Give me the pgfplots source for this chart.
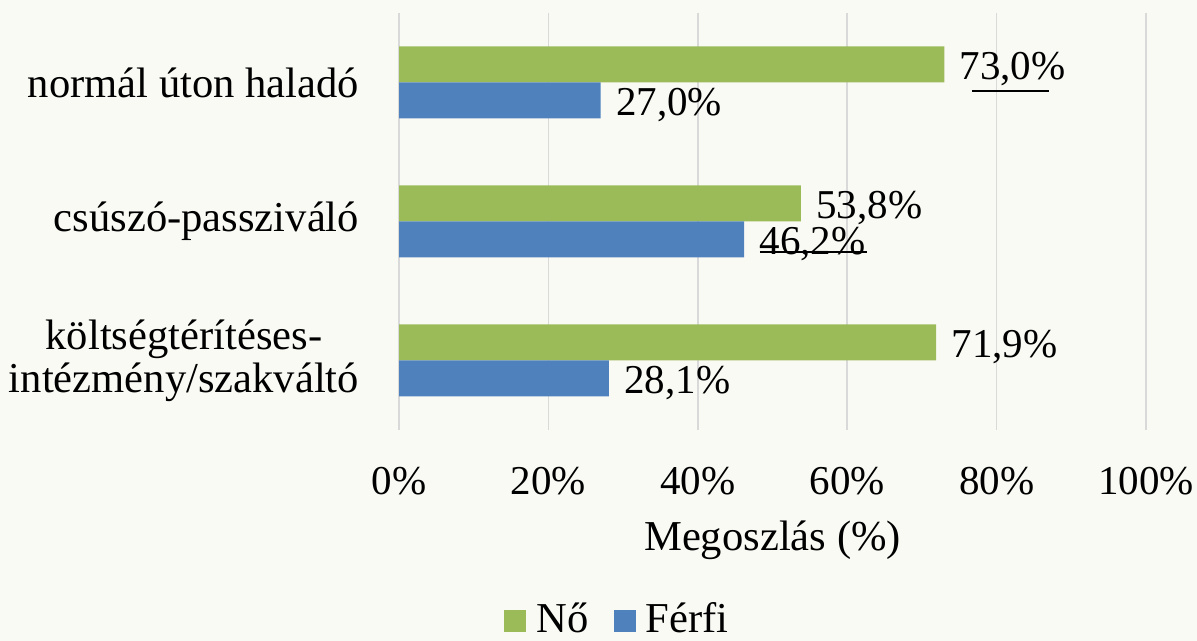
\documentclass[border=0pt]{standalone}
\usepackage{pgfplots}
\pgfplotsset{compat=1.18}
\usepackage{fontspec}
\setmainfont{Liberation Serif}
\definecolor{gr}{HTML}{9BBB59}
\definecolor{bl}{HTML}{4F81BD}
\definecolor{bg}{HTML}{FAFAF5}
\definecolor{gridc}{HTML}{D9D9D9}
\begin{document}
\begin{tikzpicture}[font=\fontsize{20.5}{22}\selectfont]
\useasboundingbox[fill=bg] (0,0) rectangle (598.5pt,320.5pt);
\begin{axis}[
 at={(199.5pt,105.5pt)}, anchor=south west,
 scale only axis, width=373.5pt, height=208.5pt,
 xmin=0, xmax=100, ymin=-0.5, ymax=2.5,
 xbar, bar width=18pt,
 axis line style={draw=none}, tick style={draw=none},
 xmajorgrids, grid style={gridc, line width=0.75pt},
 xtick={0,20,...,100},
 xticklabel={\pgfmathprintnumber{\tick}\%},
 /pgf/number format/assume math mode=true,
 xticklabel style={anchor=center, inner sep=0pt, yshift=-25.75pt},
 ytick={0,1,2},
 yticklabels={{költségtérítéses-\\intézmény/szakváltó}, csúszó-passziváló, normál úton haladó},
 yticklabel style={align=center, anchor=east, inner sep=0pt, xshift=-15.5pt,
   font=\fontsize{21.3}{21.5}\selectfont},
 xlabel={Megoszlás (\%)},
 xlabel style={at={(axis description cs:0.5,-0.2638)}, anchor=center, inner sep=0pt,
   font=\fontsize{21.3}{22}\selectfont},
 point meta=x,
 nodes near coords={\pgfmathprintnumber[fixed,fixed zerofill,precision=1,use comma]{\pgfplotspointmeta}\%},
 nodes near coords style={anchor=west, inner sep=0pt, xshift=7.5pt, yshift=-2.5pt, text=black},
 legend columns=2,
 legend style={draw=none, fill=none, inner sep=0pt, at={(axis description cs:0.291,-0.494)}, anchor=south,
   font=\fontsize{21.3}{22}\selectfont,
   nodes={inner sep=0pt},
   /tikz/every odd column/.append style={column sep=5pt},
   /tikz/every even column/.append style={column sep=12.5pt}},
]
\addplot[fill=gr, draw=none, bar shift=9pt,
  legend image code/.code={\fill[gr] (0pt,-6.5pt) rectangle (11pt,4.5pt);}]
  coordinates {(71.9,0) (53.8,1) (73.0,2)};
\addlegendentry{Nő}
\addplot[fill=bl, draw=none, bar shift=-9pt,
  legend image code/.code={\fill[bl] (0pt,-6.5pt) rectangle (11pt,4.5pt);}]
  coordinates {(28.1,0) (46.2,1) (27.0,2)};
\addlegendentry{Férfi}
\draw[black, line width=0.7pt] (axis cs:76.7,1.939) -- (axis cs:87,1.939);
\draw[black, line width=0.7pt] (axis cs:48.3,0.781) -- (axis cs:62.65,0.781);
\end{axis}
\end{tikzpicture}
\end{document}
